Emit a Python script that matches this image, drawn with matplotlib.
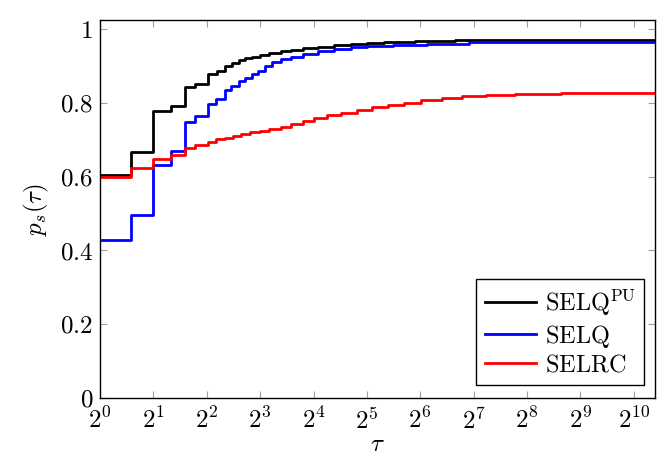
import numpy as np
import matplotlib
matplotlib.use("Agg")
from matplotlib import pyplot as plt

plt.rcParams['font.family'] = 'serif'
plt.rcParams['font.serif'] = ['cmr10', 'DejaVu Serif']
plt.rcParams['mathtext.fontset'] = 'cm'
plt.rcParams['axes.formatter.use_mathtext'] = True

# performance profile data (tau, p_s(tau)), step functions
tau_pu = [1, 1.5, 2, 2.52, 3.02, 3.43, 4.05, 4.54, 5.06, 5.53, 6.07, 6.6, 7.2, 8, 9,
          10.5, 12, 14, 17, 21, 26, 32, 40, 60, 100, 160, 1351]
p_pu = [0.604, 0.667, 0.778, 0.793, 0.842, 0.851, 0.878, 0.887, 0.900, 0.909, 0.916,
        0.922, 0.926, 0.930, 0.935, 0.940, 0.944, 0.948, 0.952, 0.956, 0.960, 0.964,
        0.966, 0.968, 0.970, 0.972, 0.972]

tau_selq = [1, 1.5, 2, 2.52, 3.02, 3.45, 4.05, 4.5, 5.06, 5.5, 6.07, 6.6, 7.2, 7.8, 8.5,
            9.3, 10.5, 12, 14, 17, 21, 26, 32, 45, 70, 120, 1351]
p_selq = [0.429, 0.497, 0.633, 0.669, 0.748, 0.764, 0.796, 0.810, 0.835, 0.846, 0.860,
          0.868, 0.878, 0.888, 0.900, 0.910, 0.918, 0.926, 0.933, 0.940, 0.946, 0.951,
          0.955, 0.958, 0.961, 0.965, 0.965]

tau_selrc = [1, 1.5, 2, 2.52, 3.02, 3.45, 4.05, 4.5, 5.1, 5.6, 6.2, 7, 8, 9, 10.5, 12,
             14, 16, 19, 23, 28, 34, 42, 52, 65, 85, 110, 150, 220, 400, 1351]
p_selrc = [0.600, 0.624, 0.647, 0.660, 0.677, 0.685, 0.695, 0.701, 0.706, 0.711, 0.716,
           0.720, 0.724, 0.729, 0.736, 0.744, 0.752, 0.760, 0.767, 0.774, 0.781, 0.788,
           0.795, 0.801, 0.807, 0.813, 0.818, 0.821, 0.824, 0.826, 0.826]

labels = [r'$\mathrm{SELQ}^{\mathrm{PU}}$', r'$\mathrm{SELQ}$', r'$\mathrm{SELRC}$']
colors = ['black', 'blue', 'red']
xticks = [2 ** k for k in range(11)]
yticks = [0, 0.2, 0.4, 0.6, 0.8, 1]

fig = plt.figure(figsize=(6.57, 4.59), dpi=100)
ax = fig.add_axes([0.1522, 0.1329, 0.845, 0.8235])

for t, p, lab, c in zip([tau_pu, tau_selq, tau_selrc], [p_pu, p_selq, p_selrc], labels, colors):
    ax.plot(t, p, drawstyle='steps-post', color=c, lw=2, label=lab)

ax.set_xscale('log', base=2)
ax.set_xlim(1, 2 ** 10.4)
ax.set_ylim(0, 1.025)
ax.set_xticks(xticks)
ax.set_xticklabels([r'$2^{%d}$' % k for k in range(11)])
ax.xaxis.set_minor_locator(matplotlib.ticker.NullLocator())
ax.set_yticks(yticks)
ax.set_yticklabels([r'$0$', r'$0.2$', r'$0.4$', r'$0.6$', r'$0.8$', r'$1$'])
ax.tick_params(direction='in', top=True, right=True, color='#a0a0a0', length=5,
               labelsize=18)
ax.tick_params(axis='x', pad=7)
ax.tick_params(axis='y', pad=5)
for s in ax.spines.values():
    s.set_linewidth(1.0)

ax.set_xlabel(r'$\tau$', fontsize=18, labelpad=0)
ax.set_ylabel(r'$p_s(\tau)$', fontsize=18, labelpad=6)

leg = ax.legend(loc='lower right', bbox_to_anchor=(0.980, 0.034), fontsize=17.5,
                frameon=True, fancybox=False, edgecolor='black', framealpha=1,
                handlelength=2.1, handletextpad=0.35, labelspacing=0.2,
                borderpad=0.35, borderaxespad=0)
leg.get_frame().set_linewidth(1.0)

fig.savefig('out.png', dpi=100)
